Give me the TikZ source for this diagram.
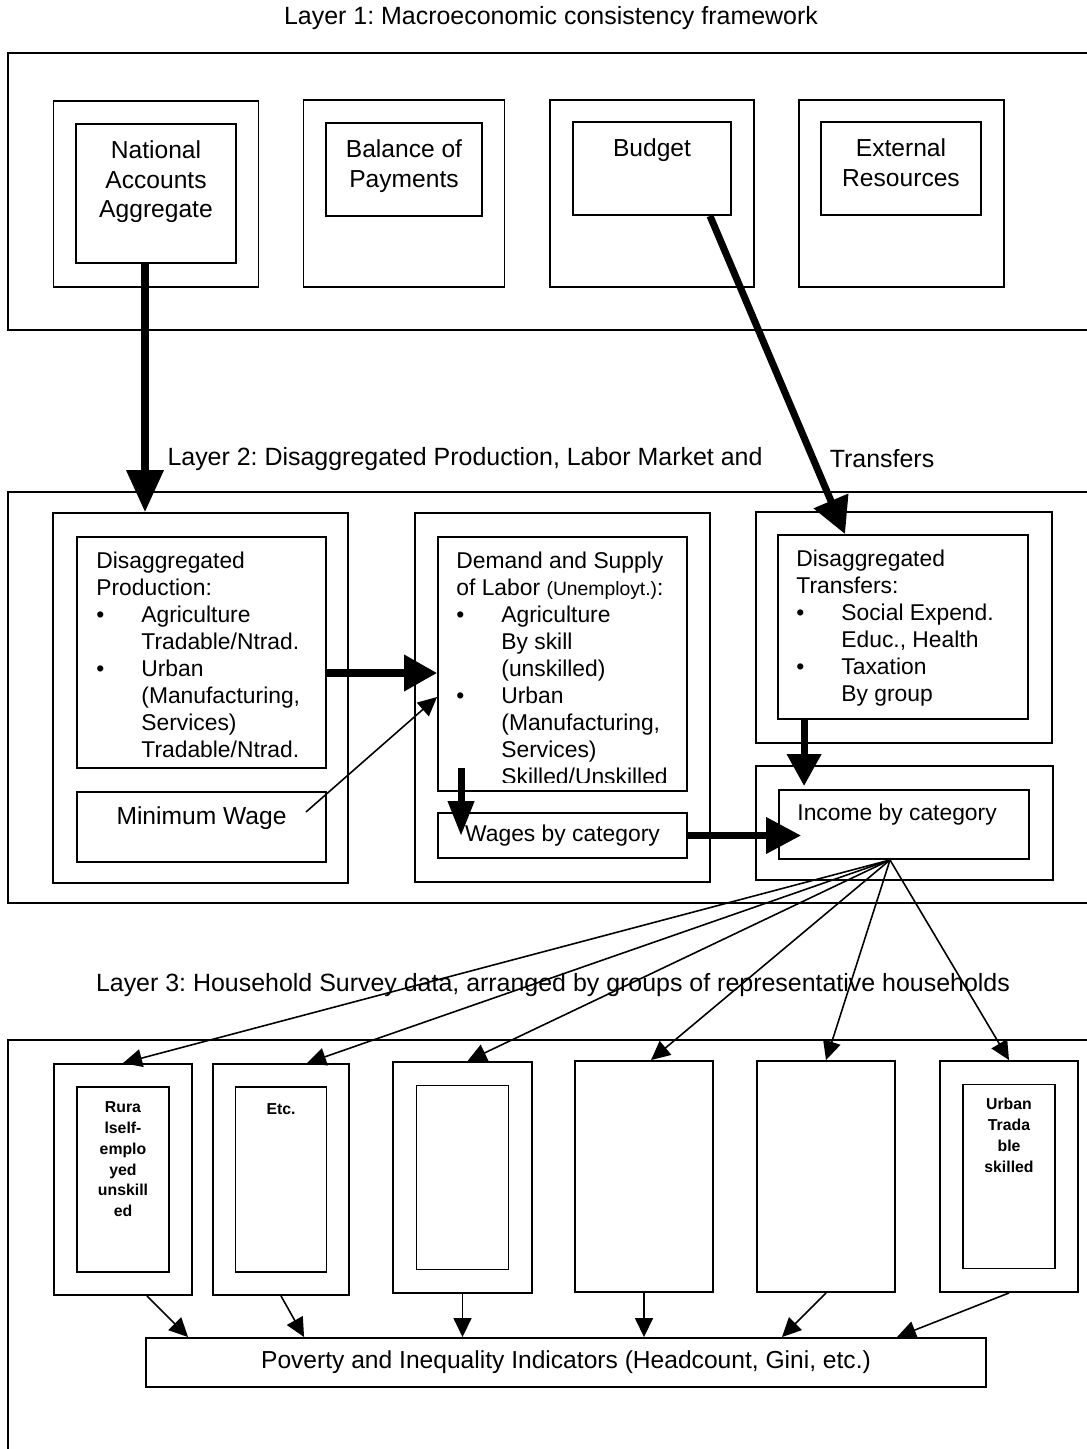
\documentclass[tikz,border=0pt]{standalone}
\usepackage{fontspec}
\setmainfont{Liberation Sans}
\usepackage{tikz}
\usetikzlibrary{arrows.meta,positioning,calc}
\frenchspacing
\newcommand{\itembul}{\makebox[0.9cm][l]{\textbullet}}
\newcommand{\itemind}{\hspace*{0.9cm}}

\begin{document}
\begin{tikzpicture}[
  x=0.02cm, y=-0.02cm,
  layerframe/.style={line width=1.1pt},
  outbox/.style={draw,line width=1.1pt,inner sep=0pt},
  inbox/.style={draw,line width=1.1pt,inner sep=0pt},
  layertitle/.style={inner sep=0pt,font=\fontsize{14.2}{17}\selectfont},
  txtA/.style={inner sep=0pt,align=center,font=\fontsize{14}{17}\selectfont},
  txtB/.style={inner sep=0pt,align=left,font=\fontsize{13}{15.3}\selectfont},
  txtC/.style={inner sep=0pt,align=center,font=\bfseries\fontsize{9}{11.9}\selectfont},
  fatarrow/.style={-{Triangle[length=0.72cm,width=0.72cm]},line width=4pt},
  thinarrow/.style={-{Triangle[length=0.38cm,width=0.36cm]},line width=0.9pt}
]
\useasboundingbox (0,0) rectangle (1087,1449);

% Layer 1
\node[layertitle] (l1title) at (551,18) {Layer 1: Macroeconomic consistency framework};
\draw[layerframe] (1095,53) -- (8,53) -- (8,330) -- (1095,330);

\node[outbox,minimum width=4.1cm,minimum height=3.72cm] (natout) at (156,194) {};
\node[inbox,minimum width=3.2cm,minimum height=2.78cm] (natin) at (156,193.5) {};
\node[txtA,below=0.34cm of natin.north] (nattxt) {National\\Accounts\\Aggregate};

\node[outbox,minimum width=4.02cm,minimum height=3.74cm] (bopout) at (404,193.5) {};
\node[inbox,minimum width=3.12cm,minimum height=1.86cm] (bopin) at (404,169.5) {};
\node[txtA,below=0.34cm of bopin.north] (boptxt) {Balance of\\Payments};

\node[outbox,minimum width=4.08cm,minimum height=3.74cm] (budout) at (652,193.5) {};
\node[inbox,minimum width=3.16cm,minimum height=1.86cm] (budin) at (652,168.5) {};
\node[txtA,below=0.34cm of budin.north] (budtxt) {Budget};

\node[outbox,minimum width=4.1cm,minimum height=3.74cm] (extout) at (901.5,193.5) {};
\node[inbox,minimum width=3.2cm,minimum height=1.86cm] (extin) at (901,168.5) {};
\node[txtA,below=0.34cm of extin.north] (exttxt) {External\\Resources};

% Layer 2
\node[layertitle] (l2title) at (465,459) {Layer 2: Disaggregated Production, Labor Market and};
\node[layertitle] (l2transf) at (882,459) {Transfers};
\draw[layerframe] (1095,492) -- (8,492) -- (8,903) -- (1095,903);

\node[outbox,minimum width=5.9cm,minimum height=7.4cm] (prodout) at (200.5,698) {};
\node[inbox,minimum width=4.98cm,minimum height=4.62cm] (prodin) at (201.5,652.5) {};
\node[txtB,anchor=north west] (prodtxt) at ([xshift=0.4cm,yshift=-0.32cm]prodin.north west)
  {Disaggregated\\Production:\\\itembul Agriculture\\\itemind Tradable/Ntrad.\\\itembul Urban\\\itemind (Manufacturing,\\\itemind Services)\\\itemind Tradable/Ntrad.};
\node[inbox,minimum width=4.98cm,minimum height=1.4cm] (minwage) at (201.5,827) {};
\node[txtA] (mwtxt) at ([yshift=0.18cm]minwage.center) {Minimum Wage};

\node[outbox,minimum width=5.9cm,minimum height=7.38cm] (laborout) at (562.5,697.5) {};
\node[inbox,minimum width=4.98cm,minimum height=5.08cm] (laborin) at (562.5,664) {};
\begin{scope}
  \clip (laborin.north west) rectangle ([yshift=0.18cm]laborin.south east);
  \node[txtB,anchor=north west] (labortxt) at ([xshift=0.38cm,yshift=-0.32cm]laborin.north west)
    {Demand and Supply\\of Labor {\fontsize{11}{13}\selectfont(Unemployt.)}:\\\itembul Agriculture\\\itemind By skill\\\itemind (unskilled)\\\itembul Urban\\\itemind (Manufacturing,\\\itemind Services)\\\itemind Skilled/Unskilled};
\end{scope}
\node[inbox,minimum width=4.98cm,minimum height=0.9cm,font=\fontsize{13}{15.3}\selectfont] (wages) at (562.5,835.5) {Wages by category};

\node[outbox,minimum width=5.92cm,minimum height=4.62cm] (transout) at (904,627.5) {};
\node[inbox,minimum width=5cm,minimum height=3.68cm] (transin) at (903,627) {};
\node[txtB,anchor=north west] (transtxt) at ([xshift=0.38cm,yshift=-0.32cm]transin.north west)
  {Disaggregated\\Transfers:\\\itembul Social Expend.\\\itemind Educ., Health\\\itembul Taxation\\\itemind By group};

\node[outbox,minimum width=5.94cm,minimum height=2.28cm] (incout) at (904.5,823) {};
\node[inbox,minimum width=5cm,minimum height=1.38cm] (incin) at (904,824.5) {};
\node[txtB,anchor=north west] (inctxt) at ([xshift=0.38cm,yshift=-0.3cm]incin.north west) {Income by category};

% arrows between layers 1 and 2
\draw[fatarrow,-{Triangle[length=0.84cm,width=0.72cm]}] ([xshift=-0.22cm]natin.south) -- ([xshift=-0.22cm]natin.south |- prodout.north);
\draw[fatarrow] ([xshift=1.16cm]budin.south) -- ([xshift=-1.16cm]transin.north);

% arrows in layer 2
\draw[fatarrow,-{Triangle[length=0.66cm,width=0.7cm]}] ([yshift=-0.41cm]prodin.east) -- ([yshift=-0.41cm]prodin.east -| laborin.west);
\draw[thinarrow] ([xshift=-0.42cm,yshift=0.3cm]minwage.east) -- ([yshift=-0.66cm]laborin.west);
\draw[fatarrow,-{Triangle[length=0.7cm,width=0.5cm]}] ([xshift=0.48cm,yshift=0.48cm]laborin.south west) -- ([xshift=0.48cm,yshift=-0.48cm]wages.north west);
\draw[fatarrow,-{Triangle[length=0.7cm,width=0.7cm]}] (wages.east) -- ([xshift=0.46cm]wages.east -| incin.west);
\draw[fatarrow,-{Triangle[length=0.64cm,width=0.66cm]}] ([xshift=0.54cm]transin.south west) -- ([xshift=0.54cm,yshift=0.06cm]transin.south west |- incin.north);

% Layer 3
\node[layertitle] (l3title) at (553,985) {Layer 3: Household Survey data, arranged by groups of representative households};
\draw[layerframe] (1095,1040) -- (8,1040) -- (8,1460);

\node[outbox,minimum width=2.76cm,minimum height=4.62cm] (hh1) at (123,1179.5) {};
\node[inbox,minimum width=1.84cm,minimum height=3.7cm] (hh1in) at (hh1.center) {};
\node[txtC,below=0.3cm of hh1in.north] (hh1txt) {Rura\\lself-\\emplo\\yed\\unskill\\ed};

\node[outbox,minimum width=2.72cm,minimum height=4.62cm] (hh2) at (281,1179.5) {};
\node[inbox,minimum width=1.82cm,minimum height=3.7cm] (hh2in) at (hh2.center) {};
\node[txtC,below=0.34cm of hh2in.north] (hh2txt) {Etc.};

\node[outbox,minimum width=2.78cm,minimum height=4.62cm] (hh3) at (462.5,1177.5) {};
\node[inbox,minimum width=1.84cm,minimum height=3.68cm] (hh3in) at (hh3.center) {};

\node[outbox,minimum width=2.76cm,minimum height=4.62cm] (hh4) at (644,1176.5) {};

\node[outbox,minimum width=2.76cm,minimum height=4.62cm] (hh5) at (826,1176.5) {};

\node[outbox,minimum width=2.76cm,minimum height=4.62cm] (hh6) at (1009,1176.5) {};
\node[inbox,minimum width=1.84cm,minimum height=3.68cm] (hh6in) at (hh6.center) {};
\node[txtC,below=0.28cm of hh6in.north] (hh6txt) {Urban\\Trada\\ble\\skilled};

\node[outbox,minimum width=16.8cm,minimum height=0.98cm,font=\fontsize{14}{17}\selectfont] (poverty) at (566,1362.5) {Poverty and Inequality Indicators (Headcount, Gini, etc.)};

% income to households
\coordinate (fan) at ([xshift=-0.28cm]incin.south);
\draw[thinarrow] (fan) -- (hh1.north);
\draw[thinarrow] (fan) -- ([xshift=0.52cm]hh2.north);
\draw[thinarrow] (fan) -- ([xshift=0.1cm]hh3.north);
\draw[thinarrow] (fan) -- ([xshift=0.14cm]hh4.north);
\draw[thinarrow] (fan) -- (hh5.north);
\draw[thinarrow] (fan) -- (hh6.north);

% households to indicators
\draw[thinarrow] ([xshift=0.48cm]hh1.south) -- ([xshift=0.86cm]poverty.north west);
\draw[thinarrow] (hh2.south) -- ([xshift=3.18cm]poverty.north west);
\draw[thinarrow] (hh3.south) -- (hh3.south |- poverty.north);
\draw[thinarrow] (hh4.south) -- (hh4.south |- poverty.north);
\draw[thinarrow] (hh5.south) -- ([xshift=12.74cm]poverty.north west);
\draw[thinarrow] (hh6.south) -- ([xshift=15.04cm]poverty.north west);
\end{tikzpicture}
\end{document}
